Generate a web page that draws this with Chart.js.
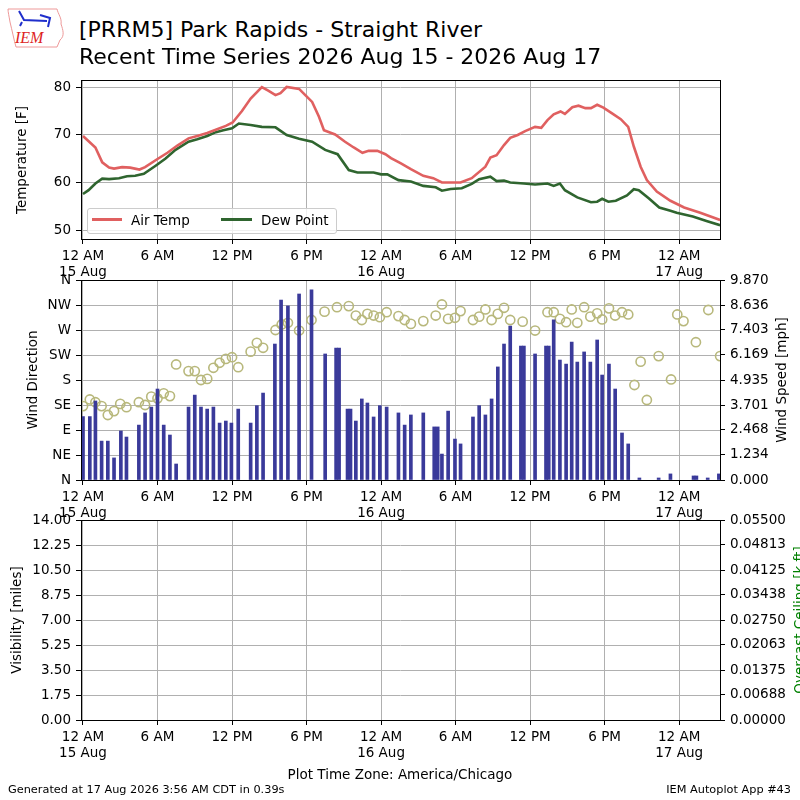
<!DOCTYPE html>
<html>
<head>
<meta charset="utf-8">
<title>[PRRM5] Park Rapids - Straight River</title>
<script src="https://cdn.jsdelivr.net/npm/chart.js@4.4.1/dist/chart.umd.min.js"></script>
<style>
html,body{margin:0;padding:0;background:#fff;}
body{width:800px;height:800px;position:relative;overflow:hidden;font-family:"DejaVu Sans",sans-serif;color:#000;}
.t{position:absolute;white-space:nowrap;line-height:1;}
.rot{position:absolute;white-space:nowrap;line-height:1;font-size:13.5px;transform:translate(-50%,-50%) rotate(-90deg);}
.cv{position:absolute;left:0;}
</style>
</head>
<body>
<canvas id="c1" class="cv" width="800" height="225" style="top:60px"></canvas>
<canvas id="c2" class="cv" width="800" height="266" style="top:260px"></canvas>
<canvas id="c3" class="cv" width="800" height="266" style="top:500px"></canvas>

<svg style="position:absolute;left:0;top:0" width="70" height="55">
  <path d="M8,9 L57,9 C58,14 62,18 61,24 C63,30 65,36 60,40 L57,47 L16,47 C14,40 12,30 10,22 C9,16 8,12 8,9 Z" fill="none" stroke="#ee9999" stroke-width="1"/>
  <path d="M19,11 L24,20 L47,21 M40,15 L50,18 L48,27 M22,22 L20,26" fill="none" stroke="#1f2fcc" stroke-width="2"/>
  <text x="15" y="43" font-family="Liberation Serif" font-style="italic" font-size="16" fill="#dd2222">IEM</text>
</svg>

<div class="t" style="left:79px;top:18.9px;font-size:22px">[PRRM5] Park Rapids - Straight River</div>
<div class="t" style="left:79px;top:45.9px;font-size:22px">Recent Time Series 2026 Aug 15 - 2026 Aug 17</div>

<div class="rot" style="left:22px;top:160px">Temperature [F]</div>
<div class="rot" style="left:33px;top:380px">Wind Direction</div>
<div class="rot" style="left:782px;top:380px">Wind Speed [mph]</div>
<div class="rot" style="left:16.5px;top:620px">Visibility [miles]</div>
<div class="rot" style="left:800px;top:620px;color:#008000">Overcast Ceiling [k ft]</div>

<div style="position:absolute;left:87px;top:208px;width:250px;height:26px;border:1px solid #cccccc;border-radius:3px;background:rgba(255,255,255,0.8);box-sizing:border-box;"></div>
<div style="position:absolute;left:92px;top:218px;width:30px;height:2.6px;background:#e06060"></div>
<div class="t" style="left:131px;top:213.5px;font-size:13.5px">Air Temp</div>
<div style="position:absolute;left:221px;top:218px;width:31px;height:2.6px;background:#2f652f"></div>
<div class="t" style="left:261px;top:213.5px;font-size:13.5px">Dew Point</div>

<div class="t" style="left:400px;top:767.8px;font-size:13.5px;transform:translateX(-50%)">Plot Time Zone: America/Chicago</div>
<div class="t" style="left:8px;top:784px;font-size:11.3px">Generated at 17 Aug 2026 3:56 AM CDT in 0.39s</div>
<div class="t" style="right:9px;top:784px;font-size:11.3px">IEM Autoplot App #43</div>

<script>
// ---------------- DATA (hours since 15 Aug 2026 00:00 CDT) ----------------
const airTempHours = [0,1.0,1.55,2.1,2.5,3.15,3.8,4.55,5.0,6.0,6.8,7.6,8.5,9.2,10.0,10.8,11.5,12.05,12.8,13.5,14.4,14.95,15.5,15.9,16.4,17.4,17.9,18.45,19.0,19.4,20.3,21.1,21.8,22.5,23.0,23.7,24.35,24.8,25.6,26.4,27.4,28.2,28.9,30.4,31.3,32.4,32.8,33.3,33.9,34.4,35.0,35.6,36.4,36.9,37.4,37.9,38.45,38.8,39.4,39.9,40.45,40.9,41.4,41.9,42.6,43.3,43.9,44.35,44.9,45.4,46.2,47.3,48.4,49.7,51.3];
const airTempF = [69.8,67.4,64.3,63.2,63.0,63.3,63.2,62.8,63.3,65.0,66.3,67.8,69.3,69.8,70.4,71.2,71.9,72.6,75.0,77.6,80.0,79.2,78.3,78.7,80.0,79.6,78.3,76.9,73.8,71.0,70.1,68.6,67.4,66.3,66.7,66.7,66.0,65.2,64.1,62.9,61.5,61.0,60.1,60.1,61.0,63.4,65.3,65.8,67.9,69.4,70.0,70.8,71.7,71.5,73.1,74.3,74.9,74.4,75.8,76.1,75.6,75.6,76.3,75.7,74.5,73.3,71.7,67.6,63.4,60.6,58.2,56.3,54.9,53.8,52.3];

const dewPointHours = [0,0.45,1.0,1.55,2.1,2.9,3.55,4.2,4.9,5.85,6.65,7.45,8.5,9.2,10.0,10.7,11.3,12.0,12.55,13.5,14.4,15.5,16.4,17.4,18.45,19.5,20.5,21.4,22.1,23.4,24.0,24.5,25.4,26.4,27.4,28.4,28.9,29.6,30.5,31.3,31.9,32.8,33.3,33.9,34.4,35.5,36.4,37.4,37.9,38.4,38.8,39.8,40.9,41.4,41.8,42.3,42.9,43.8,44.35,44.75,45.55,46.4,47.3,47.8,49.1,50.2,51.3];
const dewPointF = [57.7,58.5,59.9,60.9,60.8,61.0,61.4,61.5,61.9,63.6,65.1,66.9,68.6,69.1,69.8,70.6,71.0,71.4,72.4,72.1,71.7,71.6,70.0,69.2,68.6,66.9,66.0,62.7,62.2,62.2,61.8,61.8,60.6,60.3,59.4,59.1,58.4,58.75,58.9,59.8,60.8,61.3,60.4,60.5,60.1,59.9,59.7,59.9,59.4,59.9,58.5,57.0,56.0,56.1,56.7,56.1,56.3,57.4,58.7,58.5,56.8,54.9,54.2,53.8,53.0,52.1,51.2];

const windSpeedHours = [0,0.55,1.0,1.5,2.0,2.5,3.05,3.5,4.5,5.0,5.5,6.0,6.5,7.0,7.5,8.5,9.0,9.5,10.0,10.5,11.0,11.5,11.95,12.5,13.5,14.0,14.5,15.45,15.95,16.5,17.4,18.4,19.5,20.38,20.62,21.3,21.54,21.97,22.45,22.9,23.4,23.9,24.45,25.4,25.9,26.4,27.4,28.28,28.56,28.9,29.4,29.95,30.4,31.4,31.9,32.4,32.9,33.4,33.9,34.4,35.26,35.5,36.4,37.28,37.5,37.9,38.4,38.9,39.35,39.8,40.35,40.85,41.4,41.8,42.35,42.85,43.4,43.9,44.8,46.35,47.3,49.16,49.39,50.3,51.2];
const windSpeedMph = [3.13,3.13,3.90,1.92,1.92,1.09,2.42,2.12,2.71,3.31,3.60,4.49,2.71,2.22,0.79,3.60,4.19,3.60,3.50,3.60,2.81,2.91,2.81,3.50,2.81,3.67,4.29,6.71,8.88,8.59,9.18,9.38,6.22,6.51,6.51,3.50,3.50,2.91,4.00,3.80,3.11,3.67,3.60,3.31,2.71,3.21,3.31,2.62,2.62,1.28,3.40,2.02,1.78,3.11,3.67,3.21,4.00,5.58,6.71,7.60,6.61,6.61,6.22,6.61,6.61,7.90,5.92,5.72,6.81,5.82,6.32,5.82,6.91,5.18,5.72,4.49,2.32,1.78,0.10,0.10,0.30,0.20,0.20,0.10,0.30];

const windDirHours = [0,0.55,1.0,1.5,2.0,2.5,3.0,3.5,4.5,5.0,5.5,6.0,6.5,7.0,7.5,8.5,9.0,9.5,10.0,10.5,11.0,11.5,12.0,12.5,13.5,14.0,14.5,15.5,16.0,16.5,17.4,18.4,19.45,20.45,21.4,21.97,22.45,22.9,23.4,23.9,24.45,25.4,25.9,26.4,27.4,28.4,28.9,29.4,29.95,30.4,31.4,31.9,32.4,32.9,33.4,33.9,34.4,35.4,36.4,37.4,37.9,38.4,38.9,39.35,39.8,40.35,40.85,41.4,41.8,42.35,42.85,43.4,43.9,44.4,44.9,45.4,46.35,47.35,47.85,48.35,49.35,50.35,51.3];
const windDirDeg = [133,145,140,133,117,124,137,131,140,135,150,147,156,151,208,196,196,180,182,202,211,218,221,203,231,247,238,270,280,283,269,288,303,311,313,296,288,299,296,293,302,295,288,281,286,296,316,290,292,304,288,294,307,288,299,310,288,285,269,302,302,290,284,307,283,311,294,300,289,309,296,302,298,171,213,144,223,181,298,286,248,306,223];

const visibilityMiles = [];
const ceilingKft = [];

// ---------------- TICKS ----------------
const xTickHours = [0,6,12,18,24,30,36,42,48];
const xTickLabels = [['12 AM','15 Aug'],'6 AM','12 PM','6 PM',['12 AM','16 Aug'],'6 AM','12 PM','6 PM',['12 AM','17 Aug']];
const tempTicks = [50,60,70,80];
const dirTickDeg = [0,45,90,135,180,225,270,315,360];
const dirTickLabels = ['N','NE','E','SE','S','SW','W','NW','N'];
const speedTickLabels = ['0.000','1.234','2.468','3.701','4.935','6.169','7.403','8.636','9.870'];
const visTickLabels = ['0.00','1.75','3.50','5.25','7.00','8.75','10.50','12.25','14.00'];
const ceilTickLabels = ['0.00000','0.00688','0.01375','0.02063','0.02750','0.03438','0.04125','0.04813','0.05500'];

// ---------------- STYLE ----------------
const GRID = '#b0b0b0';
const RED = '#e06060';
const GREEN = '#2f652f';
const BAR = '#3a3a9a';
const CIRC = '#b8b87c';
const FONT = {family:'DejaVu Sans', size:13.5, lineHeight:1.22};
Chart.defaults.color = '#000';
Chart.defaults.font.family = 'DejaVu Sans';
Chart.defaults.font.size = 13.5;

const X_MIN = -0.16, X_MAX = 51.29;

const framePlugin = {
  id: 'frame',
  afterDraw(chart) {
    const {ctx, chartArea: a} = chart;
    ctx.save();
    ctx.strokeStyle = '#000';
    ctx.lineWidth = 1;
    const l = Math.round(a.left), t = Math.round(a.top), r = Math.round(a.right), b = Math.round(a.bottom);
    ctx.strokeRect(l + 0.5, t + 0.5, r - l, b - t);
    ctx.restore();
  }
};

function pts(xs, ys) { return xs.map((x, i) => ({x: x, y: ys[i]})); }

function xAxis() {
  return {
    type: 'linear', min: X_MIN, max: X_MAX, offset: false,
    afterBuildTicks: s => { s.ticks = xTickHours.map(v => ({value: v})); },
    afterFit: s => { s.height = 46; },
    ticks: {autoSkip: false, maxRotation: 0, minRotation: 0, padding: 4, font: FONT, color: '#000',
            callback: (v, i) => xTickLabels[i]},
    grid: {color: GRID, lineWidth: 1, offset: false, drawTicks: true, tickLength: 5, tickColor: '#000', tickWidth: 1},
    border: {display: false}
  };
}

function yAxis(pos, min, max, values, labels, width, onArea) {
  return {
    type: 'linear', position: pos, min: min, max: max,
    afterBuildTicks: s => { s.ticks = values.map(v => ({value: v})); },
    afterFit: s => { s.width = width; },
    ticks: {autoSkip: false, padding: 5, font: FONT, color: '#000', callback: (v, i) => labels[i]},
    grid: {color: GRID, lineWidth: 1, drawOnChartArea: onArea, drawTicks: true, tickLength: 5, tickColor: '#000', tickWidth: 1},
    border: {display: false}
  };
}

const common = {
  responsive: false, animation: false, events: [],
  plugins: {legend: {display: false}, tooltip: {enabled: false}, title: {display: false}}
};

// Chart 1: temperatures
new Chart(document.getElementById('c1'), {
  type: 'line',
  data: {datasets: [
    {label: 'Air Temp', data: pts(airTempHours, airTempF), borderColor: RED, borderWidth: 2.6, pointRadius: 0, fill: false, tension: 0, clip: 0},
    {label: 'Dew Point', data: pts(dewPointHours, dewPointF), borderColor: GREEN, borderWidth: 2.6, pointRadius: 0, fill: false, tension: 0, clip: 0}
  ]},
  options: Object.assign({}, common, {
    layout: {padding: {top: 20, right: 80, left: 0, bottom: 0}},
    scales: {
      x: xAxis(),
      y: yAxis('left', 48.33, 81.46, tempTicks, tempTicks.map(String), 81, true)
    }
  }),
  plugins: [framePlugin]
});

// Chart 2: wind
new Chart(document.getElementById('c2'), {
  type: 'bar',
  data: {datasets: [
    {type: 'bar', label: 'Wind Speed', data: pts(windSpeedHours, windSpeedMph), yAxisID: 'y1', backgroundColor: BAR, borderWidth: 0, barThickness: 3, order: 0, clip: 0},
    {type: 'line', label: 'Wind Direction', data: pts(windDirHours, windDirDeg), yAxisID: 'y', showLine: false,
     pointRadius: 4.6, pointBorderWidth: 1.6, pointBorderColor: CIRC, pointBackgroundColor: 'rgba(0,0,0,0)', order: 1, clip: 0}
  ]},
  options: Object.assign({}, common, {
    layout: {padding: {top: 20, right: 0, left: 0, bottom: 0}},
    scales: {
      x: xAxis(),
      y: yAxis('left', 0, 360, dirTickDeg, dirTickLabels, 81, true),
      y1: yAxis('right', 0, 9.87, speedTickLabels.map(Number), speedTickLabels, 80, false)
    }
  }),
  plugins: [framePlugin]
});

// Chart 3: visibility / ceiling (no data)
new Chart(document.getElementById('c3'), {
  type: 'line',
  data: {datasets: [
    {label: 'Visibility', data: visibilityMiles, yAxisID: 'y', borderColor: '#000', pointRadius: 0},
    {label: 'Overcast Ceiling', data: ceilingKft, yAxisID: 'y1', borderColor: '#008000', pointRadius: 0}
  ]},
  options: Object.assign({}, common, {
    layout: {padding: {top: 20, right: 0, left: 0, bottom: 0}},
    scales: {
      x: xAxis(),
      y: yAxis('left', 0, 14, visTickLabels.map(Number), visTickLabels, 81, true),
      y1: yAxis('right', 0, 0.055, ceilTickLabels.map(Number), ceilTickLabels, 80, false)
    }
  }),
  plugins: [framePlugin]
});
</script>
</body>
</html>
